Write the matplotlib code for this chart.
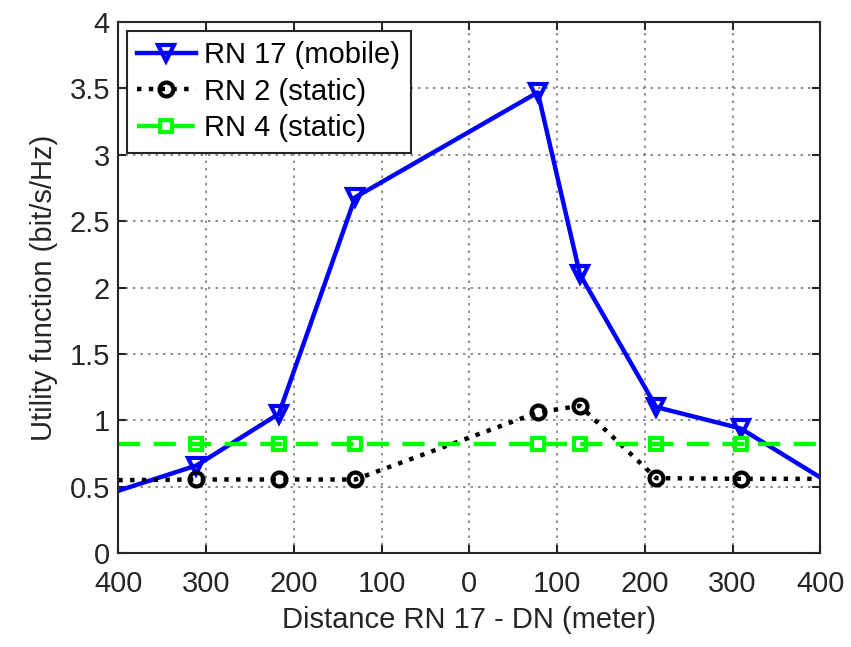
import matplotlib.pyplot as plt

plt.rcParams['font.family'] = ['Liberation Sans', 'DejaVu Sans']

# distance RN 17 - DN (negative = approaching, positive = leaving)
dist = [-400, -311, -217, -130, 78, 126, 213, 309, 400]
rn17 = [0.47, 0.66, 1.05, 2.68, 3.47, 2.10, 1.10, 0.94, 0.57]
rn2 = [0.55, 0.555, 0.555, 0.555, 1.06, 1.11, 0.565, 0.56, 0.56]
rn4 = [0.82, 0.82, 0.82, 0.82, 0.82, 0.82, 0.82, 0.82, 0.82]

xticks = [-400, -300, -200, -100, 0, 100, 200, 300, 400]
xlabels = [str(abs(t)) for t in xticks]
yticks = [0, 0.5, 1, 1.5, 2, 2.5, 3, 3.5, 4]
ylabels = ['0', '0.5', '1', '1.5', '2', '2.5', '3', '3.5', '4']

fig = plt.figure(figsize=(8.51, 6.47), dpi=100)
ax = fig.add_axes([0.139, 0.145, 0.825, 0.821])

marks = slice(1, 8)
ax.plot(dist, rn17, '-', color='#0000ff', lw=3.2, marker='v', ms=12,
        mfc='none', mew=3, markevery=marks, label='RN 17 (mobile)')
ax.plot(dist, rn2, ':', color='black', lw=3.2, marker='o', ms=10,
        mfc='none', mew=3, markevery=marks, label='RN 2 (static)')
ax.plot(dist, rn4, '--', color='#00ff00', lw=3.2, dashes=(5, 3), marker='s', ms=9,
        mfc='none', mew=3, markevery=marks, label='RN 4 (static)')

ax.set_xlim(-400, 400)
ax.set_ylim(0, 4)
ax.set_xticks(xticks)
ax.set_xticklabels(xlabels)
ax.set_yticks(yticks)
ax.set_yticklabels(ylabels)
ax.tick_params(direction='in', length=6, width=1.5, labelsize=21,
               top=True, right=True, colors='#262626')
ax.tick_params(axis='x', pad=12)
ax.tick_params(axis='y', pad=6)
for s in ax.spines.values():
    s.set_linewidth(1.5)
    s.set_color('#262626')
ax.grid(True, linestyle=(0, (1.5, 3)), color='#7a7a7a', lw=1.2)

ax.set_xlabel('Distance RN 17 - DN (meter)', fontsize=21, color='#262626',
              labelpad=6)
ax.set_ylabel('Utility function (bit/s/Hz)', fontsize=21, color='#262626',
              labelpad=8)

leg = ax.legend(loc='upper left', fontsize=21, frameon=True, fancybox=False,
                borderaxespad=0.3, handlelength=2.0, handletextpad=0.3,
                borderpad=0.35, labelspacing=0.3)
leg.get_frame().set_edgecolor('#262626')
leg.get_frame().set_linewidth(1.5)
leg.get_frame().set_alpha(1)

fig.savefig('out.png', dpi=100)
